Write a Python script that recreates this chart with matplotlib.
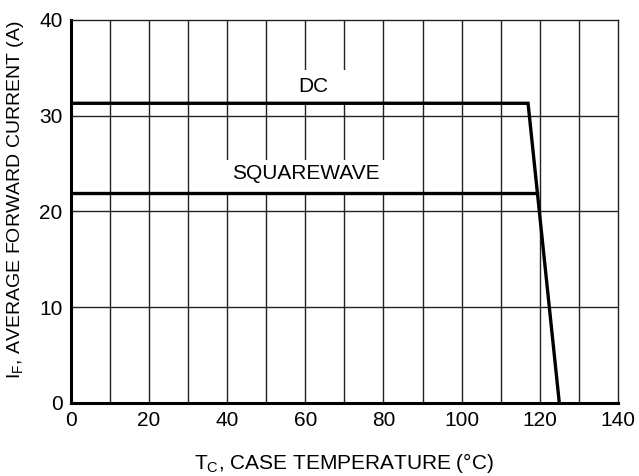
import matplotlib.pyplot as plt
from matplotlib.patches import Rectangle

# curve data
dc_x = [0, 117, 125]
dc_y = [31.3, 31.3, 0]
sq_x = [0, 119.4]
sq_y = [21.9, 21.9]

x_ticks = list(range(0, 141, 20))
y_ticks = list(range(0, 41, 10))

plt.rcParams['font.family'] = ['Liberation Sans', 'DejaVu Sans']

fig = plt.figure(figsize=(6.39, 4.76), dpi=100)
ax = fig.add_axes([0.111, 0.1534, 0.856, 0.8046])

# grid every 10 units
for gx in range(10, 140, 10):
    ax.axvline(gx, color='#222222', lw=1.0, zorder=1)
for gy in range(10, 40, 10):
    ax.axhline(gy, color='#222222', lw=1.0, zorder=1)

# white masks behind labels
ax.add_patch(Rectangle((55, 31.3), 18, 3.5, facecolor='white', edgecolor='none', zorder=2))
ax.add_patch(Rectangle((35, 21.9), 50, 3.5, facecolor='white', edgecolor='none', zorder=2))

ax.plot(dc_x, dc_y, color='black', lw=2.4, zorder=4, solid_joinstyle='miter')
ax.plot(sq_x, sq_y, color='black', lw=2.4, zorder=4)

ax.text(62, 33.1, 'DC', ha='center', va='center', fontsize=15, zorder=3)
ax.text(60.1, 24.0, 'SQUAREWAVE', ha='center', va='center', fontsize=15, zorder=3)

ax.set_xlim(0, 140)
ax.set_ylim(0, 40)
ax.set_xticks(x_ticks)
ax.set_yticks(y_ticks)
ax.tick_params(length=0, labelsize=15, pad=6)

for s in ['left', 'bottom']:
    ax.spines[s].set_linewidth(2.2)
for s in ['top', 'right']:
    ax.spines[s].set_linewidth(1.0)
    ax.spines[s].set_color('#222222')

ax.set_xlabel('T$_\\mathregular{C}$, CASE TEMPERATURE (°C)', fontsize=15, labelpad=15)
ax.set_ylabel('I$_\\mathregular{F}$, AVERAGE FORWARD CURRENT (A)', fontsize=14)
ax.yaxis.set_label_coords(-0.082, 0.53)

fig.savefig('out.png', dpi=100)
